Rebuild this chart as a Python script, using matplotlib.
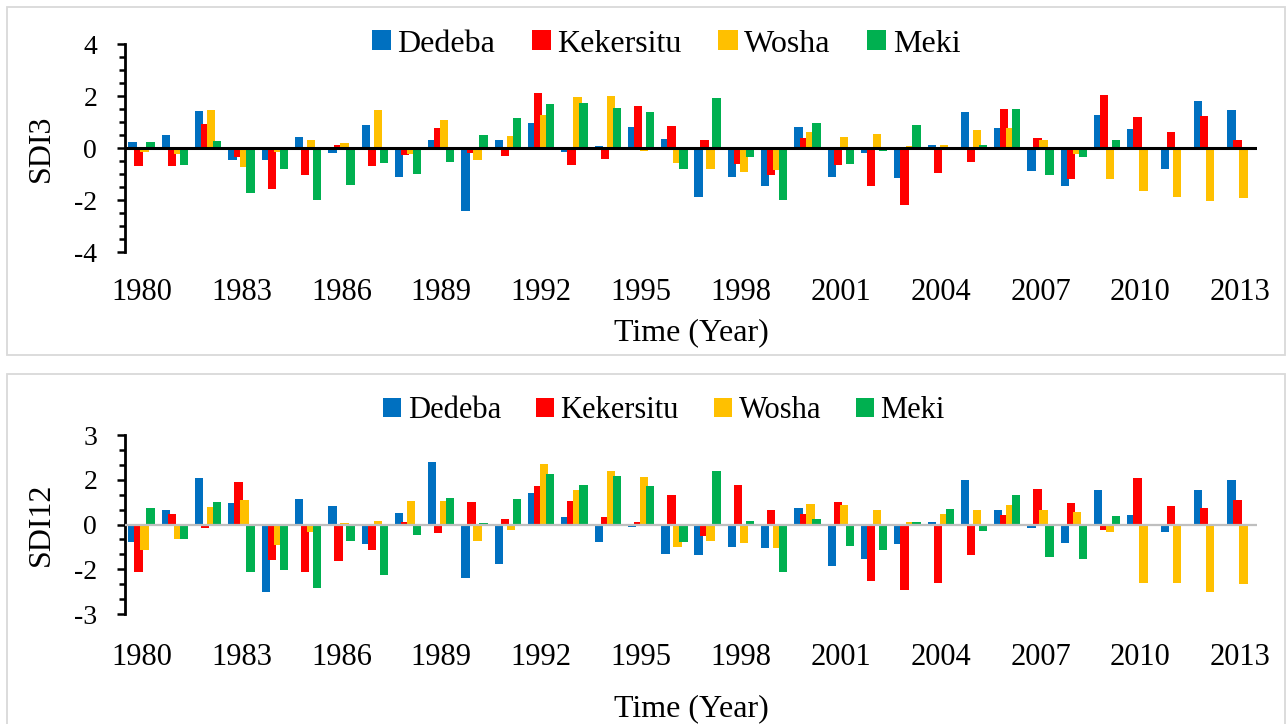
import matplotlib.pyplot as plt
from matplotlib.patches import Rectangle
from matplotlib.ticker import MultipleLocator, FormatStrFormatter
import numpy as np

plt.rcParams['font.family'] = ['Liberation Serif', 'DejaVu Serif']
plt.rcParams['axes.unicode_minus'] = False

years = list(range(1980, 2014))
stations = ['Dedeba', 'Kekersitu', 'Wosha', 'Meki']
colors = ['#0070C0', '#FF0000', '#FFC000', '#00B050']

# 3-month streamflow drought index
sdi3_dedeba = [0.25, 0.51, 1.44, -0.45, -0.45, 0.44, -0.19, 0.87, -1.13, 0.32, -2.42, 0.32,
               0.97, -0.15, 0.09, 0.82, 0.35, -1.90, -1.10, -1.46, 0.79, -1.10, -0.21, -1.14,
               0.13, 1.37, 0.76, -0.87, -1.47, 1.28, 0.74, -0.79, 1.82, 1.46]
sdi3_kekersitu = [-0.68, -0.70, 0.91, -0.36, -1.56, -1.03, 0.13, -0.68, -0.27, 0.78, -0.20, -0.29,
                  2.12, -0.64, -0.41, 1.63, 0.86, 0.32, -0.60, -1.05, 0.40, -0.67, -1.47, -2.19,
                  -0.97, -0.53, 1.50, 0.38, -1.21, 2.04, 1.18, 0.63, 1.23, 0.32]
sdi3_wosha = [-0.14, -0.24, 1.47, -0.73, -0.15, 0.32, 0.18, 1.45, -0.24, 1.08, -0.47, 0.46,
              1.26, 1.97, 2.01, -0.12, -0.59, -0.82, -0.92, -0.85, 0.63, 0.42, 0.55, 0.09,
              0.13, 0.69, 0.77, 0.32, -0.22, -1.21, -1.67, -1.90, -2.05, -1.94]
sdi3_meki = [0.24, -0.64, 0.27, -1.74, -0.82, -2.00, -1.44, -0.59, -0.99, -0.54, 0.51, 1.15,
             1.69, 1.72, 1.55, 1.38, -0.82, 1.94, -0.36, -2.01, 0.95, -0.62, -0.12, 0.88,
             0.0, 0.13, 1.50, -1.05, -0.36, 0.31, 0.0, 0.0, 0.0, 0.0]

# 12-month streamflow drought index
sdi12_dedeba = [-0.59, 0.49, 1.55, 0.73, -2.26, 0.85, 0.63, -0.66, 0.37, 2.11, -1.80, -1.32,
                1.06, 0.26, -0.58, -0.09, -0.99, -1.01, -0.77, -0.78, 0.55, -1.40, -1.15, -0.67,
                0.07, 1.49, 0.48, -0.13, -0.63, 1.14, 0.31, -0.25, 1.15, 1.49]
sdi12_kekersitu = [-1.58, 0.34, -0.12, 1.42, -1.18, -1.60, -1.22, -0.85, 0.08, -0.28, 0.74, 0.18,
                   1.28, 0.79, 0.26, 0.09, 0.98, -0.40, 1.32, 0.47, 0.36, 0.75, -1.91, -2.19,
                   -1.97, -1.02, 0.32, 1.18, 0.72, -0.17, 1.55, 0.63, 0.56, 0.83]
sdi12_wosha = [-0.84, -0.48, 0.58, 0.83, -0.68, -0.25, 0.04, 0.11, 0.79, 0.79, -0.54, -0.19,
               2.03, 1.15, 1.81, 1.59, -0.76, -0.55, -0.63, -0.79, 0.68, 0.65, 0.50, 0.07,
               0.36, 0.49, 0.66, 0.48, 0.41, -0.26, -1.96, -1.97, -2.26, -1.98]
sdi12_meki = [0.55, -0.47, 0.75, -1.60, -1.54, -2.13, -0.56, -1.69, -0.34, 0.88, 0.04, 0.85,
              1.70, 1.34, 1.63, 1.30, -0.58, 1.80, 0.13, -1.58, 0.19, -0.72, -0.86, 0.07,
              0.53, -0.23, 0.99, -1.09, -1.15, 0.27, 0.0, 0.0, 0.0, 0.0]

W, H = 1287, 724


def fx(px):
    return px / W


def fy(py):
    return 1 - py / H


def draw_panel(fig, rect, series, ylabel, ylim, major, zero_color, zero_lw,
               legend_xy, legend_size, xtick_pad, xlabel_pad):
    ax = fig.add_axes(rect)
    x = np.arange(len(years))
    step, width = 0.18, 0.25
    for j, (vals, name, c) in enumerate(zip(series, stations, colors)):
        ax.bar(x + (j - 1.5) * step, vals, width=width, color=c, label=name,
               linewidth=0, zorder=2)
    ax.axhline(0, color=zero_color, lw=zero_lw, zorder=3)

    ax.set_xlim(-0.5, len(years) - 0.5)
    ax.set_ylim(*ylim)
    ax.set_xticks(x[::3])
    ax.set_xticklabels([str(y) for y in years[::3]])
    ax.tick_params(axis='x', length=0, pad=xtick_pad, labelsize=22)

    ax.yaxis.set_major_locator(MultipleLocator(major))
    ax.yaxis.set_minor_locator(MultipleLocator(0.5))
    ax.yaxis.set_major_formatter(FormatStrFormatter('%.0f'))
    ax.tick_params(axis='y', which='major', length=6, width=1.8, pad=14, labelsize=20)
    ax.tick_params(axis='y', which='minor', length=4.5, width=1.8)

    for s in ['top', 'right', 'bottom']:
        ax.spines[s].set_visible(False)
    ax.spines['left'].set_linewidth(2.0)

    ax.set_ylabel(ylabel, fontsize=23, labelpad=13)
    ax.set_xlabel('Time (Year)', fontsize=23, labelpad=xlabel_pad)

    ax.legend(loc='center', bbox_to_anchor=legend_xy, bbox_transform=fig.transFigure,
              ncol=4, frameon=False, fontsize=legend_size, handlelength=0.6,
              handleheight=0.6, handletextpad=0.2, columnspacing=1.15, borderpad=0)
    return ax


fig = plt.figure(figsize=(W / 100, H / 100), dpi=100)

# panel frames
fig.add_artist(Rectangle((fx(7), fy(355)), fx(1285) - fx(7), fy(7) - fy(355),
                         transform=fig.transFigure, fill=False,
                         edgecolor='#D9D9D9', lw=1.3))
fig.add_artist(Rectangle((fx(7), fy(728)), fx(1285) - fx(7), fy(374) - fy(728),
                         transform=fig.transFigure, fill=False,
                         edgecolor='#D9D9D9', lw=1.3))

draw_panel(fig, [fx(125), fy(252), fx(1257) - fx(125), fy(44) - fy(252)],
           [sdi3_dedeba, sdi3_kekersitu, sdi3_wosha, sdi3_meki],
           'SDI3', (-4, 4), 2, 'black', 2.2, (fx(666), fy(44)), 23, 19, 8)

draw_panel(fig, [fx(125), fy(614), fx(1257) - fx(125), fy(435) - fy(614)],
           [sdi12_dedeba, sdi12_kekersitu, sdi12_wosha, sdi12_meki],
           'SDI12', (-3, 3), 1.5, '#BFBFBF', 1.6, (fx(664), fy(411)), 22, 21, 16)

fig.savefig('out.png', dpi=100)
